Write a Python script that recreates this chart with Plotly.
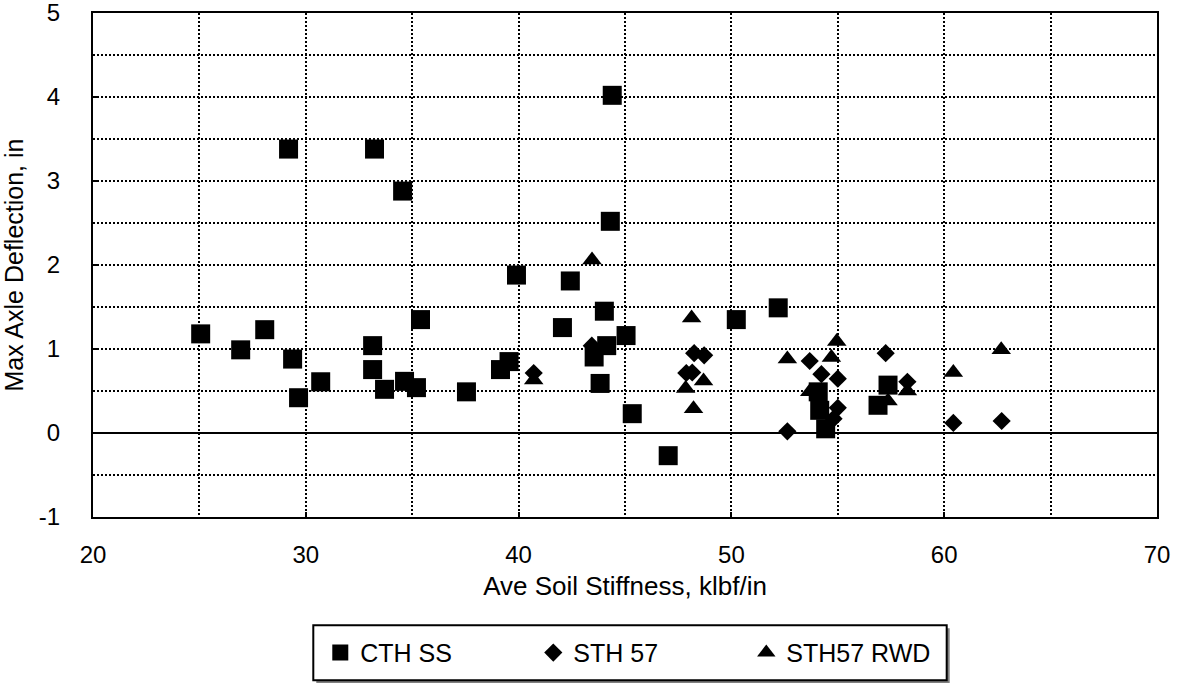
import plotly.graph_objects as go

# CTH SS (squares)
cth_x = [29.19, 33.23, 34.55, 44.40, 44.31, 39.90, 42.43, 25.06, 26.94, 28.07, 29.38, 29.66,
         30.70, 33.14, 33.14, 33.70, 34.64, 35.20, 35.39, 37.55, 39.15, 39.55, 42.06, 44.03,
         43.55, 44.14, 43.83, 45.05, 45.34, 47.03, 50.23, 52.20, 54.08, 54.15, 54.43, 57.36,
         56.89]
cth_y = [3.38, 3.38, 2.88, 4.02, 2.52, 1.88, 1.81, 1.18, 0.99, 1.23, 0.88, 0.42,
         0.61, 1.04, 0.755, 0.52, 0.615, 0.54, 1.35, 0.49, 0.755, 0.85, 1.255, 1.45,
         0.905, 1.04, 0.59, 1.16, 0.23, -0.27, 1.35, 1.49, 0.49, 0.27, 0.05, 0.57,
         0.33]

# STH 57 (diamonds)
sth_x = [40.71, 43.44, 48.25, 48.72, 47.88, 48.16, 52.63, 53.68, 54.23, 55.00, 55.00,
         54.80, 57.25, 58.27, 60.43, 62.70]
sth_y = [0.714, 1.04, 0.95, 0.925, 0.714, 0.72, 0.02, 0.857, 0.70, 0.647, 0.30,
         0.17, 0.95, 0.61, 0.12, 0.143]

# STH57 RWD (triangles)
rwd_x = [43.45, 40.71, 48.13, 47.85, 48.69, 48.22, 52.63, 54.95, 54.70, 53.68, 57.36,
         58.27, 60.43, 62.68]
rwd_y = [2.06, 0.63, 1.37, 0.53, 0.62, 0.29, 0.88, 1.09, 0.90, 0.49, 0.38,
         0.50, 0.72, 0.99]

series_names = ["CTH SS", "STH 57", "STH57 RWD"]

x_tickvals = [20, 30, 40, 50, 60, 70]
x_ticktext = ["20", "30", "40", "50", "60", "70"]
y_tickvals = [-1, 0, 1, 2, 3, 4, 5]
y_ticktext = ["-1", "0", "1", "2", "3", "4", "5"]

FONT = "Liberation Sans, Arial, sans-serif"

fig = go.Figure()
fig.add_trace(go.Scatter(x=cth_x, y=cth_y, mode="markers", name=series_names[0],
                         marker=dict(symbol="square", size=19, color="black")))
fig.add_trace(go.Scatter(x=sth_x, y=sth_y, mode="markers", name=series_names[1],
                         marker=dict(symbol="diamond", size=14, color="black")))
fig.add_trace(go.Scatter(x=rwd_x, y=rwd_y, mode="markers", name=series_names[2],
                         marker=dict(symbol="triangle-up", size=17, color="black")))

W, H = 1177, 683
ml, mr, mt, mb = 92.5, 19.5, 12.7, 166.3
pw, ph = W - ml - mr, H - mt - mb

def px2paper_x(px):
    return (px - ml) / pw

def px2paper_y(py):
    return (H - mb - py) / ph

# legend frame + shadow
fig.add_shape(type="rect", xref="paper", yref="paper",
              x0=px2paper_x(316), x1=px2paper_x(950),
              y0=px2paper_y(683), y1=px2paper_y(628),
              line=dict(width=0), fillcolor="#808080", layer="above")
fig.add_shape(type="rect", xref="paper", yref="paper",
              x0=px2paper_x(313), x1=px2paper_x(947),
              y0=px2paper_y(680), y1=px2paper_y(625),
              line=dict(width=2, color="black"), fillcolor="white", layer="above")

axis_common = dict(showline=True, mirror=True, linecolor="black", linewidth=2,
                   gridcolor="black", gridwidth=1.5, griddash="2px,2px",
                   ticks="inside", ticklen=5, tickcolor="black", tickwidth=1.5,
                   ticklabeloverflow="allow",
                   tickfont=dict(family=FONT, size=24, color="black"))

fig.update_xaxes(range=[20, 70], tickmode="array", tickvals=x_tickvals, ticktext=x_ticktext,
                 showgrid=True, zeroline=False,
                 minor=dict(dtick=5, tick0=20, showgrid=True, gridcolor="black", gridwidth=1.5,
                            griddash="2px,2px"),
                 title=dict(text="Ave Soil Stiffness, klbf/in",
                            font=dict(family=FONT, size=26, color="black"), standoff=10),
                 ticklabelstandoff=15,
                 **axis_common)
fig.update_yaxes(range=[-1, 5], tickmode="array", tickvals=y_tickvals, ticktext=y_ticktext,
                 showgrid=True,
                 zeroline=True, zerolinecolor="black", zerolinewidth=1.5,
                 minor=dict(dtick=0.5, tick0=0, showgrid=True, gridcolor="black", gridwidth=1.5,
                            griddash="2px,2px"),
                 title=dict(text="Max Axle Deflection, in",
                            font=dict(family=FONT, size=25, color="black"), standoff=8),
                 ticklabelstandoff=26,
                 **axis_common)

fig.update_layout(
    width=W, height=H,
    margin=dict(l=ml, r=mr, t=mt, b=mb, autoexpand=False),
    plot_bgcolor="white", paper_bgcolor="white",
    font=dict(family=FONT, size=25, color="black"),
    legend=dict(orientation="h", x=px2paper_x(320), xanchor="left",
                y=px2paper_y(652.5), yanchor="middle",
                bgcolor="rgba(0,0,0,0)", borderwidth=0,
                entrywidth=168, entrywidthmode="pixels",
                font=dict(family=FONT, size=25, color="black"),
                itemsizing="trace"),
)

fig.write_html("out.html")
